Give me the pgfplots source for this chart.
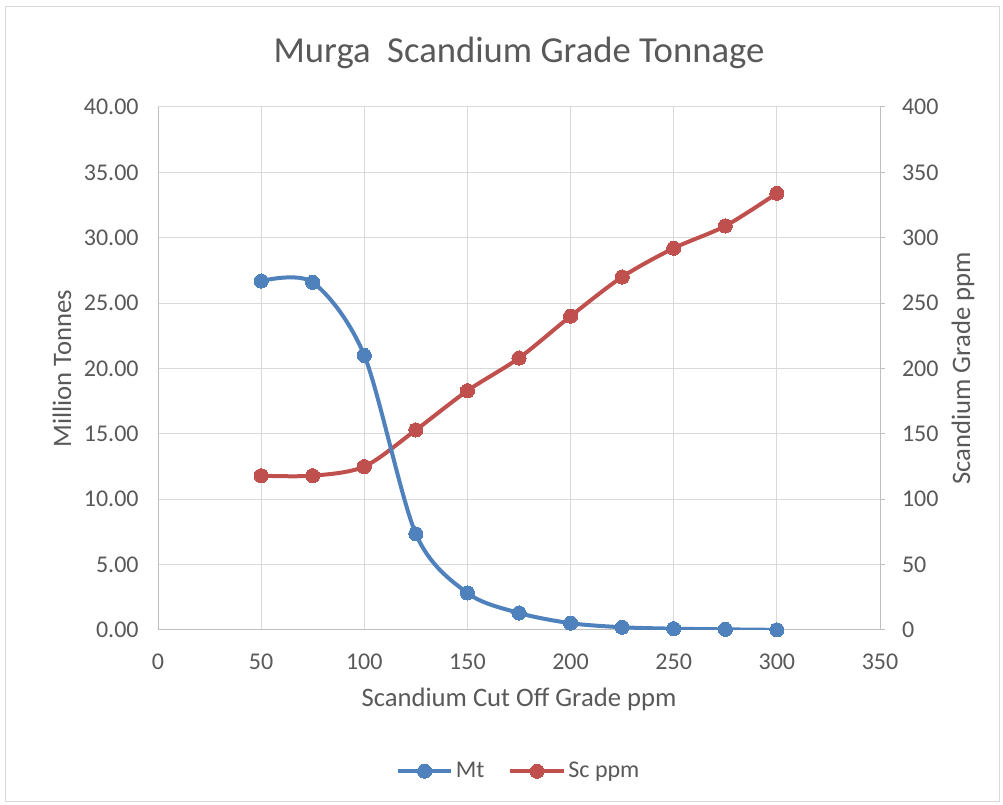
\documentclass[border=0pt]{standalone}
\usepackage{pgfplots}
\pgfplotsset{compat=1.18}
\usepackage{pgfplotstable}
\usepackage{fontspec}
\setmainfont{Carlito}
\definecolor{mtblue}{HTML}{4F81BD}
\definecolor{scred}{HTML}{C0504D}
\definecolor{txt}{HTML}{595959}
\definecolor{grd}{HTML}{D9D9D9}
\definecolor{axl}{HTML}{BFBFBF}

\pgfplotstableread{
x mt
50 26.69
75 26.59
100 21.00
125 7.35
150 2.83
175 1.30
200 0.52
225 0.21
250 0.10
275 0.05
300 0.01
}\mttable
\pgfplotstableread{
x sc
50 118
75 118
100 125
125 153
150 183
175 208
200 240
225 270
250 292
275 309
300 334
}\sctable

\pgfplotsset{
  common/.style={
    scale only axis, width=541.5pt, height=392.25pt,
    at={(118.5pt,131.25pt)}, anchor=south west,
    xmin=0, xmax=350, xtick={0,50,...,350},
    font=\fontsize{18}{22}\selectfont,
    /pgf/number format/assume math mode=true,
    tick label style={text=txt},
    xticklabel style={yshift=-10.5pt},
    label style={text=txt, font=\fontsize{20}{24}\selectfont},
    axis line style={axl, line width=0.75pt},
    xtick style={draw=none},
  },
}

\begin{document}
\begin{tikzpicture}
\fill[white] (0pt,0pt) rectangle (752.25pt,603.75pt);
\draw[grd, line width=0.75pt] (3.75pt,2.25pt) rectangle (749.25pt,598.5pt);

\begin{axis}[common,
  ymin=0, ymax=400, ytick={0,50,...,400},
  axis y line*=right, axis x line*=bottom,
  grid=major, grid style={grd, line width=0.75pt},
  ytick style={axl, line width=0.75pt},
  major tick length=4pt, tick align=outside,
  yticklabel style={xshift=9pt},
  xlabel={Scandium Cut Off Grade ppm},
  xlabel style={at={(axis description cs:0.5,-0.132)}, anchor=center},
  ylabel={Scandium Grade ppm},
  ylabel style={at={(axis description cs:1.115,0.5)}, anchor=center, rotate=0},
  /pgf/number format/.cd, fixed,
]
\addplot[scred, line width=3pt, smooth, tension=0.5, mark=*, mark size=5.3pt, mark options={fill=scred, draw=scred, line width=0pt}] table[x=x, y=sc] {\sctable};
\end{axis}

\begin{axis}[common,
  ymin=0, ymax=40, ytick={0,5,...,40},
  axis y line*=left, hide x axis,
  ytick style={draw=none},
  yticklabel style={xshift=-11pt, /pgf/number format/.cd, fixed, fixed zerofill, precision=2},
  ylabel={Million Tonnes},
  ylabel style={at={(axis description cs:-0.133,0.5)}, anchor=center},
  title={Murga\ \ Scandium Grade Tonnage},
  title style={at={(axis description cs:0.5,1.069)}, anchor=base, font=\fontsize{27.5}{33}\selectfont, text=txt},
  legend style={at={(axis description cs:0.5,-0.27)}, anchor=center, legend columns=2, draw=none, fill=none,
    font=\fontsize{18}{22}\selectfont, text=txt,
    /tikz/every even column/.append style={column sep=16pt}},
  legend image code/.code={\draw[mark repeat=2, mark phase=2, #1] plot coordinates {(0pt,0pt) (20pt,0pt) (40pt,0pt)};},
]
\addplot[mtblue, line width=3pt, smooth, tension=0.5, mark=*, mark size=5.3pt, mark options={fill=mtblue, draw=mtblue, line width=0pt}] table[x=x, y=mt] {\mttable};
\addlegendentry{Mt}
\addlegendimage{scred, line width=3pt, mark=*, mark size=5.3pt, mark options={fill=scred, draw=scred, line width=0pt}}
\addlegendentry{Sc ppm}
\end{axis}
\end{tikzpicture}
\end{document}
